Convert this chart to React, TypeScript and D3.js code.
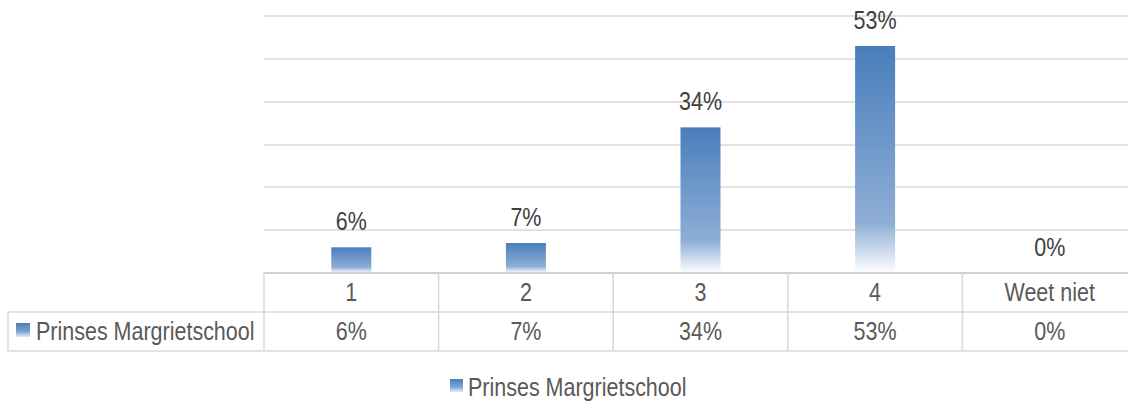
import React from "react";
import * as d3 from "d3";

const categories = ["1", "2", "3", "4", "Weet niet"];
const values = [6, 7, 34, 53, 0];
const seriesName = "Prinses Margrietschool";
const yTicks = [0, 10, 20, 30, 40, 50, 60];

const W = 1128;
const H = 403;
const FONT = "'Liberation Sans', Arial, sans-serif";
const FS = 25;
const SX = 0.86; // squeeze to look like Arial Narrow

// narrow text helper
const T = ({ x, y, anchor = "start", fill = "#595959", children }: any) => (
  <text
    transform={`translate(${x},${y}) scale(${SX},1)`}
    textAnchor={anchor}
    fontSize={FS}
    fill={fill}
  >
    {children}
  </text>
);

const App = () => {
  const left = 264;
  const right = 1137;
  const top = 16;
  const base = 273;
  const rowH = 39;

  const x = d3.scaleBand<string>().domain(categories).range([left, right]);
  const y = d3.scaleLinear().domain([0, 60]).range([base, top]);
  const barW = 40;
  const fmt = (v: number) => `${v}%`;

  return (
    <svg width={W} height={H} style={{ position: "absolute", left: 0, top: 0 }} fontFamily={FONT}>
      <defs>
        <linearGradient id="barGrad" x1="0" y1="0" x2="0" y2="1">
          <stop offset="0" stopColor="#4a7ebb" />
          <stop offset="0.78" stopColor="#8eaed6" />
          <stop offset="1" stopColor="#ffffff" />
        </linearGradient>
        <linearGradient id="swatchGrad" x1="0" y1="0" x2="0" y2="1">
          <stop offset="0" stopColor="#4a7ebb" />
          <stop offset="0.6" stopColor="#7da2d0" />
          <stop offset="1" stopColor="#e4ecf6" />
        </linearGradient>
      </defs>

      {/* gridlines */}
      {yTicks.slice(1).map((t) => (
        <line key={t} x1={left} x2={W} y1={Math.round(y(t))} y2={Math.round(y(t))} stroke="#d9d9d9" strokeWidth={1.5} />
      ))}

      {/* bars + labels */}
      {categories.map((c, i) => {
        const cx = x(c)! + x.bandwidth() / 2;
        const v = values[i];
        return (
          <g key={c}>
            {v > 0 && (
              <rect x={cx - barW / 2} y={y(v)} width={barW} height={base - y(v)} fill="url(#barGrad)" />
            )}
            <T x={cx} y={y(v) - 17} anchor="middle" fill="#404040">{fmt(v)}</T>
          </g>
        );
      })}

      {/* data table */}
      <g stroke="#d9d9d9" strokeWidth={1.5}>
        <line x1={left} x2={W} y1={base} y2={base} stroke="#d0d0d0" strokeWidth={2} />
        <line x1={8} x2={W} y1={base + rowH} y2={base + rowH} />
        <line x1={8} x2={W} y1={base + rowH * 2} y2={base + rowH * 2} />
        <line x1={8} x2={8} y1={base + rowH} y2={base + rowH * 2} />
        <line x1={left} x2={left} y1={base} y2={base + rowH * 2} />
        {categories.slice(1).map((c) => (
          <line key={c} x1={x(c)!} x2={x(c)!} y1={base} y2={base + rowH * 2} />
        ))}
      </g>
      {categories.map((c, i) => {
        const cx = x(c)! + x.bandwidth() / 2;
        return (
          <g key={c}>
            <T x={cx} y={base + 28} anchor="middle">{c}</T>
            <T x={cx} y={base + rowH + 28} anchor="middle">{fmt(values[i])}</T>
          </g>
        );
      })}
      <rect x={16} y={323} width={14} height={14} fill="url(#swatchGrad)" />
      <T x={36} y={base + rowH + 28}>{seriesName}</T>

      {/* legend */}
      <rect x={450} y={379} width={13} height={13} fill="url(#swatchGrad)" />
      <T x={468} y={396}>{seriesName}</T>
    </svg>
  );
};

export default App;
